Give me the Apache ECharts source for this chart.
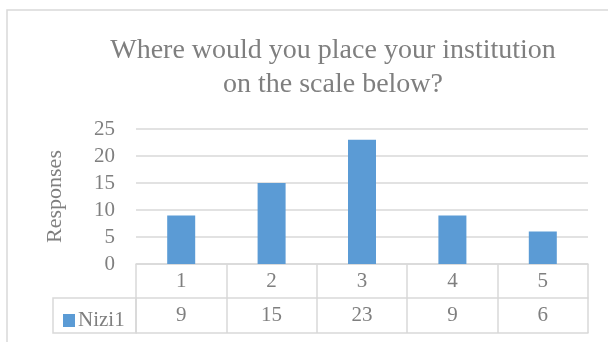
<!DOCTYPE html>
<html>
<head>
<meta charset="utf-8">
<script src="https://cdn.jsdelivr.net/npm/echarts@6/dist/echarts.min.js"></script>
<style>
  html, body { margin: 0; padding: 0; background: #fff; }
  #chart { width: 608px; height: 342px; }
</style>
</head>
<body>
<div id="chart"></div>
<script>
// data
var categories = ['1', '2', '3', '4', '5'];
var nizi1 = [9, 15, 23, 9, 6];
var seriesName = 'Nizi1';
var yTicks = { min: 0, max: 25, interval: 5 };

var FONT = '"Liberation Serif", "DejaVu Serif", serif';
var GREY = '#7f7f7f';
var LINE = '#d9d9d9';

var chart = echarts.init(document.getElementById('chart'));

var option = {
  animation: false,
  color: ['#5b9bd5'],
  textStyle: { fontFamily: FONT },
  legend: {
    left: 58,
    top: 305,
    itemWidth: 12,
    itemHeight: 13,
    itemGap: 4,
    icon: 'rect',
    data: [seriesName],
    textStyle: { fontFamily: FONT, fontSize: 21, color: GREY, padding: [0, 0, 0, -2] }
  },
  grid: { left: 136, right: 20, top: 129, bottom: 78 },
  xAxis: [
    { // category row
      type: 'category',
      data: categories,
      axisLine: { show: true, lineStyle: { color: LINE, width: 1.5 } },
      axisTick: { show: true, length: 69, interval: 0, lineStyle: { color: LINE, width: 1.5 } },
      axisLabel: { margin: 7, fontSize: 21, color: GREY, fontFamily: FONT }
    },
    { // values row
      type: 'category',
      data: categories,
      position: 'bottom',
      offset: 34,
      axisLine: { show: true, lineStyle: { color: LINE, width: 1.5 } },
      axisTick: { show: false },
      axisLabel: {
        margin: 7, fontSize: 21, color: GREY, fontFamily: FONT,
        formatter: function (v, i) { return String(nizi1[i]); }
      }
    },
    { // bottom border of table
      type: 'category',
      data: categories,
      position: 'bottom',
      offset: 69,
      axisLine: { show: true, lineStyle: { color: LINE, width: 1.5 } },
      axisTick: { show: false },
      axisLabel: { show: false }
    }
  ],
  yAxis: {
    type: 'value',
    min: yTicks.min,
    max: yTicks.max,
    interval: yTicks.interval,
    name: 'Responses',
    nameLocation: 'middle',
    nameGap: 70,
    nameTextStyle: { fontSize: 22, color: GREY, fontFamily: FONT },
    axisLine: { show: false },
    axisTick: { show: false },
    axisLabel: { margin: 21, fontSize: 21, color: GREY, fontFamily: FONT },
    splitLine: { lineStyle: { color: LINE, width: 1.5 } }
  },
  series: [{
    name: seriesName,
    type: 'bar',
    xAxisIndex: 0,
    barWidth: 28,
    data: nizi1
  }],
  graphic: [
    { // chart area border
      type: 'rect',
      shape: { x: 7, y: 10, width: 700, height: 400 },
      style: { fill: null, stroke: LINE, lineWidth: 1.5 },
      silent: true
    },
    { // row header cell
      type: 'rect',
      shape: { x: 53, y: 298, width: 83, height: 35 },
      style: { fill: null, stroke: LINE, lineWidth: 1.5 },
      silent: true
    },
    {
      type: 'text',
      x: 333,
      y: 34,
      style: {
        text: 'Where would you place your institution\non the scale below?',
        textAlign: 'center',
        fontFamily: FONT,
        fontSize: 28,
        lineHeight: 34,
        fill: GREY
      },
      silent: true
    }
  ]
};

chart.setOption(option);
</script>
</body>
</html>
